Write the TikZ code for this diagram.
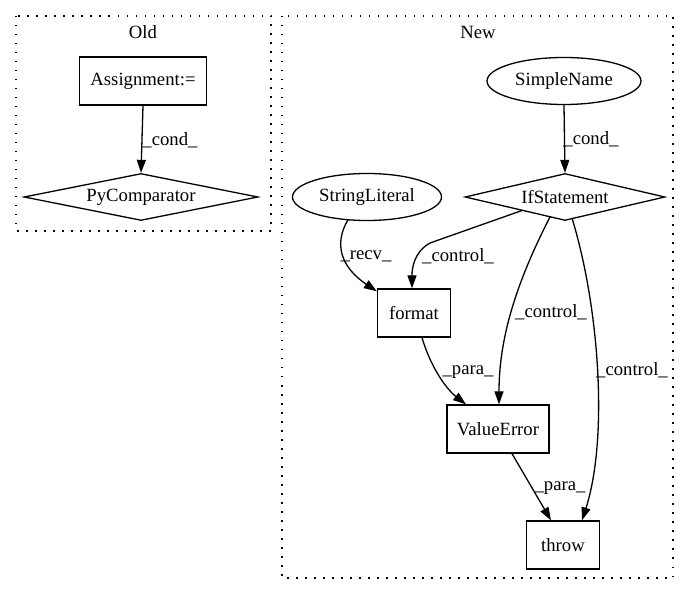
\documentclass[tikz,border=0pt]{standalone}
\usepackage{fontspec}
\setmainfont{Liberation Serif}
\usetikzlibrary{shapes.geometric,arrows.meta}
\begin{document}
\begin{tikzpicture}[x=1pt,y=-1pt,
  every node/.style={font=\fontsize{18.7}{22}\selectfont},
  box/.style={draw,line width=1.3pt,rectangle,minimum height=48pt,inner sep=0pt},
  ell/.style={draw,line width=1.3pt,ellipse,minimum height=47pt,inner sep=0pt},
  dia/.style={draw,line width=1.3pt,diamond,aspect=5,minimum width=234pt,minimum height=47pt,inner sep=0pt},
  lbl/.style={inner sep=0pt},
  cluster/.style={draw,line width=1.3pt,dash pattern=on 1.5pt off 7.5pt},
  edge/.style={draw,line width=1.3pt,-{Triangle[length=13pt,width=9pt]}}
]
\useasboundingbox (0,0) rectangle (689,596);
% clusters
\path[cluster] (16,16) rectangle (271,231);
\path[cluster] (282,16) rectangle (673,578);
\node[lbl] (oldlbl) at (143,32) {Old};
\node[lbl] (newlbl) at (478,32) {New};
% Old nodes
\node[box,minimum width=127pt] (asg) at (143,81) {Assignment:=};
\node[dia] (pyc) at (141,197) {PyComparator};
% New nodes
\node[ell,minimum width=154pt] (sn) at (564,81) {SimpleName};
\node[dia,minimum width=200pt] (if) at (565,197) {IfStatement};
\node[ell,minimum width=149pt] (sl) at (367,197) {StringLiteral};
\node[box,minimum width=73pt] (fmt) at (414,313) {format};
\node[box,minimum width=102pt] (ve) at (498,429) {ValueError};
\node[box,minimum width=73pt] (thr) at (563,545) {throw};
% edges
\path[edge] (asg.south) -- (pyc.north);
\path[edge] (sn.south) -- (if.north);
\path[edge] ([xshift=-19pt,yshift=-22.7pt]sl.center) .. controls (333,245) and (342,268) .. ([yshift=-3pt]fmt.north west);
\path[edge] ([xshift=-43pt,yshift=-13.5pt]if.center) -- (430,243) .. controls (414,252) and (412,268) .. ([xshift=-2pt]fmt.north);
\path[edge] ([xshift=-15pt,yshift=-20pt]if.center) .. controls (515,285) and (499,340) .. ([xshift=1pt]ve.north);
\path[edge] ([xshift=7pt,yshift=-21pt]if.center) .. controls (600,310) and (608,440) .. ([xshift=19pt]thr.north);
\path[edge] ([xshift=8pt]fmt.south) .. controls (430,365) and (445,388) .. ([xshift=-32pt]ve.north);
\path[edge] ([xshift=14pt]ve.south) -- ([xshift=-12pt]thr.north);
% labels
\node[lbl] (l1) at (170,140) {\_cond\_};
\node[lbl] (l2) at (591,139) {\_cond\_};
\node[lbl] (l3) at (366,256) {\_recv\_};
\node[lbl] (l4) at (458,256) {\_control\_};
\node[lbl] (l5) at (551,312) {\_control\_};
\node[lbl] (l6) at (632,370) {\_control\_};
\node[lbl] (l7) at (468,372) {\_para\_};
\node[lbl] (l8) at (560,488) {\_para\_};
\end{tikzpicture}
\end{document}
